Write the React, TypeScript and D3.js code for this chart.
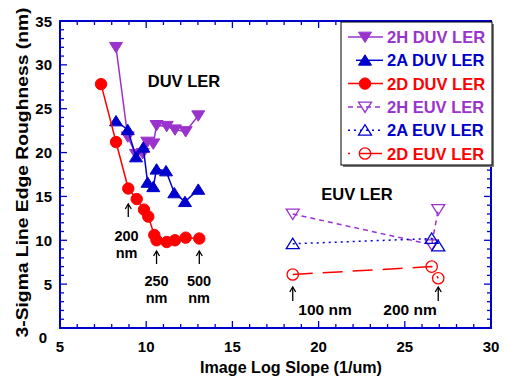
import React from "react";
import * as d3 from "d3";

const duv2H_x = [8.25, 8.93, 9.41, 9.8, 10.06, 10.41, 10.6, 11.19, 11.67, 12.29, 13.02];
const duv2H_y = [32.0, 21.8, 19.8, 19.9, 21.2, 21.0, 23.1, 23.0, 22.6, 22.4, 24.2];
const duv2A_x = [8.25, 8.93, 9.41, 9.83, 10.08, 10.41, 10.6, 11.15, 11.63, 12.25, 13.02];
const duv2A_y = [23.6, 22.6, 19.5, 20.6, 16.6, 16.1, 18.1, 17.9, 15.4, 14.4, 15.8];
const duv2D_x = [7.38, 8.25, 8.96, 9.45, 9.87, 10.12, 10.47, 10.6, 11.19, 11.67, 12.29, 13.08];
const duv2D_y = [27.8, 21.2, 15.9, 14.7, 13.5, 12.7, 10.6, 10.0, 9.8, 10.0, 10.3, 10.2];
const euv2H_x = [18.5, 26.56, 26.94];
const euv2H_y = [13.0, 9.5, 13.5];
const euv2A_x = [18.5, 26.56, 26.94];
const euv2A_y = [9.6, 10.2, 9.35];
const euv2D_x = [18.5, 26.56, 26.94];
const euv2D_y = [6.1, 7.0, 5.67];

const xTicks = [5, 10, 15, 20, 25, 30];
const yTicks = [0, 5, 10, 15, 20, 25, 30, 35];
const legendLabels = ["2H DUV LER", "2A DUV LER", "2D DUV LER", "2H EUV LER", "2A EUV LER", "2D EUV LER"];

const PURPLE = "#9933cc";
const BLUE = "#0000cc";
const RED = "#ff0000";
const FONT = "'Liberation Sans', Arial, Helvetica, sans-serif";

type Marker = "down" | "up" | "circle";
interface Series { xs: number[]; ys: number[]; color: string; marker: Marker; filled: boolean; dash: string | null; }

const series: Series[] = [
  { xs: duv2H_x, ys: duv2H_y, color: PURPLE, marker: "down", filled: true, dash: null },
  { xs: duv2A_x, ys: duv2A_y, color: BLUE, marker: "up", filled: true, dash: null },
  { xs: duv2D_x, ys: duv2D_y, color: RED, marker: "circle", filled: true, dash: null },
  { xs: euv2H_x, ys: euv2H_y, color: PURPLE, marker: "down", filled: false, dash: "5,4" },
  { xs: euv2A_x, ys: euv2A_y, color: BLUE, marker: "up", filled: false, dash: "2,4" },
  { xs: euv2D_x, ys: euv2D_y, color: RED, marker: "circle", filled: false, dash: "20,10" },
];

function MarkerShape({ x, y, m, color, filled }: { x: number; y: number; m: Marker; color: string; filled: boolean }) {
  const fill = filled ? color : "none";
  const sw = filled ? 1 : 1.3;
  if (m === "circle") return <circle cx={x} cy={y} r={5.7} fill={fill} stroke={color} strokeWidth={sw} />;
  const h = 6.5;
  const w = 6.5;
  const pts = m === "down"
    ? `${x - w},${y - h * 0.75} ${x + w},${y - h * 0.75} ${x},${y + h * 0.85}`
    : `${x - w},${y + h * 0.75} ${x + w},${y + h * 0.75} ${x},${y - h * 0.85}`;
  return <polygon points={pts} fill={fill} stroke={color} strokeWidth={sw} />;
}

export default function App() {
  const W = 507, H = 383;
  const x = d3.scaleLinear().domain([5, 30]).range([60, 491]);
  const y = d3.scaleLinear().domain([0, 35]).range([328, 21]);
  const line = d3.line<[number, number]>().x(d => x(d[0])).y(d => y(d[1]));
  const xMinor = d3.range(5, 30.001, 1);
  const yMinor = d3.range(0, 35.001, 1);

  const annotations = [
    { ax: 8.96, ayTop: 204, lines: ["200", "nm"], tx: 126.5, ty: 241 },
    { ax: 10.6, ayTop: 251, lines: ["250", "nm"], tx: 156.5, ty: 286 },
    { ax: 13.08, ayTop: 251, lines: ["500", "nm"], tx: 199, ty: 286 },
  ];

  return (
    <svg width={W} height={H} style={{ position: "absolute", left: 0, top: 0, background: "#fff" }} fontFamily={FONT}>
      <rect width={W} height={H} fill="#fff" />
      {/* ticks */}
      <g stroke={BLUE} strokeWidth={1.3}>
        {xMinor.map(v => {
          const len = v % 5 === 0 ? 7 : 4;
          return (
            <g key={"xt" + v}>
              <line x1={x(v)} x2={x(v)} y1={y(0)} y2={y(0) - len} />
              <line x1={x(v)} x2={x(v)} y1={y(35)} y2={y(35) + len} />
            </g>
          );
        })}
        {yMinor.map(v => {
          const len = v % 5 === 0 ? 7 : 4;
          return (
            <g key={"yt" + v}>
              <line x1={x(5)} x2={x(5) + len} y1={y(v)} y2={y(v)} />
              <line x1={x(30)} x2={x(30) - len} y1={y(v)} y2={y(v)} />
            </g>
          );
        })}
      </g>
      <rect x={x(5)} y={y(35)} width={x(30) - x(5)} height={y(0) - y(35)} fill="none" stroke={BLUE} strokeWidth={2} />

      {/* tick labels */}
      <g fontSize={15} fontWeight="bold" fill="#000">
        {xTicks.map(v => (
          <text key={"xl" + v} x={x(v)} y={352} textAnchor="middle">{v}</text>
        ))}
        {yTicks.map(v => (
          <text key={"yl" + v} x={52} y={y(v) + 5.5 + (v === 0 ? 9 : 0)} textAnchor="end" dx={v === 0 ? -5 : 0}>{v}</text>
        ))}
      </g>
      <text x={291} y={373} textAnchor="middle" fontSize={16.5} fontWeight="bold" textLength={182} lengthAdjust="spacingAndGlyphs">Image Log Slope (1/um)</text>
      <text transform={`translate(28,172.5) rotate(-90)`} textAnchor="middle" fontSize={17} fontWeight="bold" textLength={330} lengthAdjust="spacingAndGlyphs">3-Sigma Line Edge Roughness (nm)</text>

      {/* series */}
      {series.map((s, i) => {
        const pts: [number, number][] = s.xs.map((v, j) => [v, s.ys[j]]);
        return (
          <g key={"s" + i}>
            <path d={line(pts) || ""} fill="none" stroke={s.color} strokeWidth={1.5} strokeDasharray={s.dash || undefined} />
            {pts.map((p, j) => (
              <MarkerShape key={j} x={x(p[0])} y={y(p[1])} m={s.marker} color={s.color} filled={s.filled} />
            ))}
          </g>
        );
      })}

      {/* text annotations */}
      <text x={184} y={87} textAnchor="middle" fontSize={16.5} fontWeight="bold">DUV LER</text>
      <text x={357} y={200} textAnchor="middle" fontSize={16.5} fontWeight="bold">EUV LER</text>
      <g stroke="#000" strokeWidth={1.3} fill="none">
        {annotations.map((a, i) => (
          <g key={"ar" + i}>
            <line x1={x(a.ax)} x2={x(a.ax)} y1={a.ayTop} y2={a.ayTop + 13} />
            <path d={`M${x(a.ax) - 3},${a.ayTop + 5} L${x(a.ax)},${a.ayTop} L${x(a.ax) + 3},${a.ayTop + 5}`} />
          </g>
        ))}
        {[18.5, 26.94].map((v, i) => (
          <g key={"ar2" + i}>
            <line x1={x(v)} x2={x(v)} y1={287} y2={301} />
            <path d={`M${x(v) - 3},${292} L${x(v)},${287} L${x(v) + 3},${292}`} />
          </g>
        ))}
      </g>
      <g fontSize={14.5} fontWeight="bold" textAnchor="middle">
        {annotations.map((a, i) => (
          <text key={"at" + i} x={a.tx} y={a.ty}>
            <tspan x={a.tx}>{a.lines[0]}</tspan>
            <tspan x={a.tx} dy={16.5}>{a.lines[1]}</tspan>
          </text>
        ))}
      </g>
      <g fontSize={15.5} fontWeight="bold" textAnchor="middle">
        <text x={325} y={315}>100 nm</text>
        <text x={410} y={315}>200 nm</text>
      </g>

      {/* legend */}
      <rect x={343} y={24} width={151} height={143} fill="#777" />
      <rect x={341} y={22} width={151} height={143} fill="#fff" stroke="#000" strokeWidth={1} />
      {legendLabels.map((lab, i) => {
        const s = series[i];
        const cy = 37 + i * 23.3;
        return (
          <g key={"lg" + i}>
            <line x1={s.dash ? 348 : (i === 1 ? 356 : 348)} x2={383} y1={cy} y2={cy} stroke={s.color} strokeWidth={1.5} strokeDasharray={s.dash ? (i === 5 ? "2,10,20,0" : s.dash) : undefined} />
            <MarkerShape x={365} y={cy} m={s.marker} color={s.color} filled={s.filled} />
            <text x={387} y={cy + 6} fontSize={16.5} fontWeight="bold" fill={s.color}>{lab}</text>
          </g>
        );
      })}
    </svg>
  );
}
